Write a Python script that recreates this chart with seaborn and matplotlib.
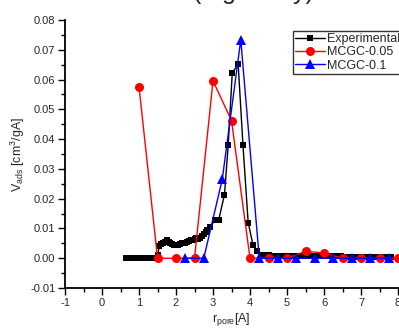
import numpy as np
import pandas as pd
import seaborn as sns
import matplotlib.pyplot as plt

# experimental curve
exp_r = [0.65, 0.7, 0.75, 0.8, 0.85, 0.9, 0.95, 1.0, 1.05, 1.1, 1.15, 1.2, 1.25, 1.3, 1.35, 1.4, 1.45,
         1.5, 1.55, 1.6, 1.65, 1.7, 1.75, 1.8, 1.85, 1.9, 1.95, 2.0, 2.05, 2.1, 2.15, 2.2, 2.25, 2.3,
         2.35, 2.4, 2.45, 2.5, 2.55, 2.6, 2.65, 2.7, 2.75, 2.8, 2.85, 2.93, 3.04, 3.15, 3.31, 3.41,
         3.52, 3.68, 3.81, 3.95, 4.08, 4.2, 4.35, 4.5, 4.65, 4.8, 4.95, 5.1, 5.25, 5.4, 5.55, 5.7,
         5.85, 6.0, 6.15, 6.3, 6.45, 6.6, 6.75, 6.9, 7.05, 7.2, 7.35, 7.5, 7.65, 7.8]
exp_v = [0, 0, 0, 0, 0, 0, 0, 0, 0, 0, 0, 0, 0, 0, 0, 0, 0,
         0.001, 0.004, 0.0048, 0.005, 0.0055, 0.006, 0.0055, 0.005, 0.0048, 0.0045, 0.0045, 0.0046,
         0.0048, 0.005, 0.005, 0.0052, 0.0055, 0.0058, 0.006, 0.0062, 0.0065, 0.0068, 0.0066, 0.0068,
         0.0075, 0.008, 0.0088, 0.0095, 0.0105, 0.0127, 0.0127, 0.0214, 0.0379,
         0.0623, 0.0651, 0.0379, 0.012, 0.0044, 0.0025, 0.0012, 0.001, 0.0009, 0.0008, 0.0008,
         0.0008, 0.0007, 0.0007, 0.0007, 0.0007, 0.0007, 0.0006, 0.0006, 0.0006, 0.0006, 0.0005,
         0.0005, 0.0005, 0.0005, 0.0005, 0.0005, 0.0005, 0.0005, 0.0005]

# MCGC-0.05
mc05_r = [1.0, 1.5, 2.0, 2.5, 3.0, 3.5, 4.0, 4.5, 5.0, 5.5, 6.0, 6.5, 7.0, 7.5, 8.0]
mc05_v = [0.0576, 0, 0, 0, 0.0596, 0.0462, 0, 0, 0, 0.0023, 0.0018, 0, 0, 0, 0]

# MCGC-0.1
mc1_r = [2.25, 2.75, 3.25, 3.75, 4.25, 4.75, 5.25, 5.75, 6.25, 6.75, 7.25, 7.75]
mc1_v = [0, 0, 0.0265, 0.0734, 0, 0, 0, 0, 0, 0, 0, 0]

sns.set_style("ticks")
plt.rcParams['font.family'] = ['Liberation Sans', 'DejaVu Sans']
plt.rcParams['mathtext.fontset'] = 'custom'
plt.rcParams['mathtext.rm'] = 'Liberation Sans'
plt.rcParams['mathtext.it'] = 'Liberation Sans'
plt.rcParams['axes.unicode_minus'] = False

fig = plt.figure(figsize=(3.99, 3.29), dpi=100)
ax = fig.add_axes([0.163, 0.1246, 0.8345, 0.8144])

sns.lineplot(x=exp_r, y=exp_v, ax=ax, color="black", marker="s", markersize=5,
             markeredgewidth=0, linewidth=1, label="Experimental", estimator=None)
sns.lineplot(x=mc05_r, y=mc05_v, ax=ax, color="red", marker="o", markersize=6.5,
             markeredgewidth=0, linewidth=1, label="MCGC-0.05", estimator=None)
sns.lineplot(x=mc1_r, y=mc1_v, ax=ax, color="blue", marker="^", markersize=7,
             markeredgewidth=0, linewidth=1, label="MCGC-0.1", estimator=None)

ax.set_xlim(-1, 8)
ax.set_ylim(-0.01, 0.08)
ax.set_xticks(range(-1, 9))
ax.set_xticks(np.arange(-0.5, 8, 1), minor=True)
ax.set_yticks(np.arange(-0.01, 0.081, 0.01))
ax.set_yticks(np.arange(-0.005, 0.08, 0.01), minor=True)
ax.set_yticklabels(["-0.01"] + [f"{v:.2f}" for v in np.arange(0, 0.081, 0.01)])
ax.tick_params(which="major", length=5, width=1, labelsize=8, color="black", pad=2)
ax.tick_params(which="minor", length=3, width=1, color="black")

sns.despine(ax=ax)
for s in ["left", "bottom"]:
    ax.spines[s].set_linewidth(1.3)
    ax.spines[s].set_color("black")

ax.set_xlabel(r"r$_{\rm pore}$[A]", fontsize=9, labelpad=2)
ax.set_ylabel(r"V$_{\rm ads}$ [cm$^3$/gA]", fontsize=9, labelpad=2)

leg = ax.legend(loc="upper left", bbox_to_anchor=(0.685, 0.958), fontsize=9,
                frameon=True, fancybox=False, handlelength=2.4, borderpad=0.15,
                labelspacing=0.1, handletextpad=0.15, borderaxespad=0)
leg.get_frame().set_edgecolor("black")
leg.get_frame().set_linewidth(1)

fig.text(0.484, 1.004, "(Figure by)", ha="left", va="baseline", fontsize=18)

fig.savefig("out.png", dpi=100)
